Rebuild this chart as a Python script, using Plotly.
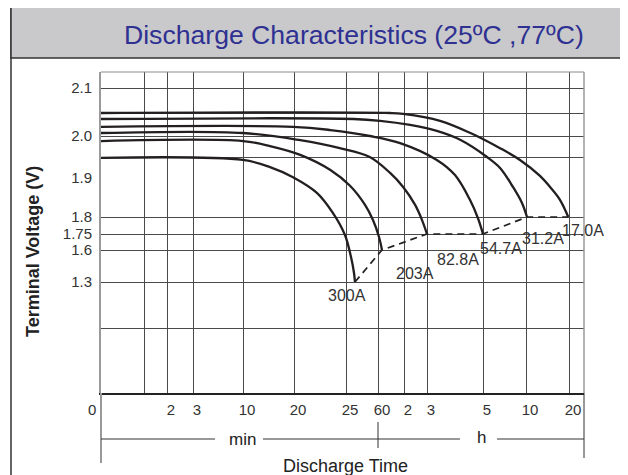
import numpy as np
import plotly.graph_objects as go

# ---------------- data ----------------
TIME_GRID_MIN = [1, 2, 3, 10, 20, 25, 60, 120, 180, 300, 600, 1200]
TIME_LABEL_MIN = [0, 2, 3, 10, 20, 25, 60, 120, 180, 300, 600, 1200]
TIME_LABEL_TEXT = ["0\u2003\u2002\u2009", "2", "3", "10", "20", "25", "60", "2", "3", "5", "10", "20"]

VOLT_GRID = [2.1, 2.05, 2.0, 1.95, 1.8, 1.75, 1.6, 1.3, 1.0]
VOLT_LABEL = [2.1, 2.0, 1.9, 1.8, 1.75, 1.6, 1.3]
VOLT_LABEL_TEXT = ["2.1", "2.0", "1.9", "1.8", "1.75", "1.6", "1.3"]

CURRENTS = ["300A", "203A", "82.8A", "54.7A", "31.2A", "17.0A"]

t_300A = [0, 10, 15.3, 19.8, 22.2, 23.75, 24.9, 30.5, 33.75, 34.8]
v_300A = [1.948, 1.943, 1.926, 1.902, 1.862, 1.810, 1.741, 1.534, 1.384, 1.30]

t_203A = [0, 10, 15.3, 20.6, 23.5, 29.4, 45.8, 54.5, 62.3, 69.2]
v_203A = [1.988, 1.988, 1.976, 1.955, 1.919, 1.880, 1.831, 1.791, 1.722, 1.60]

t_82A = [0, 10, 20.6, 24.4, 51, 88, 118, 149, 167, 180]
v_82A = [2.0065, 2.0065, 1.990, 1.971, 1.950, 1.912, 1.877, 1.831, 1.791, 1.75]

t_54A = [0, 19.8, 23.5, 51, 111, 201, 240, 272, 289, 300]
v_54A = [2.020, 2.020, 2.013, 2.000, 1.983, 1.943, 1.907, 1.844, 1.797, 1.75]

t_31A = [0, 33, 65, 136, 201, 251, 328, 419, 509, 572, 614]
v_31A = [2.037, 2.037, 2.033, 2.024, 2.011, 1.991, 1.950, 1.924, 1.877, 1.836, 1.80]

t_17A = [0, 88, 118, 208, 272, 419, 558, 795, 935, 1074, 1190]
v_17A = [2.050, 2.050, 2.048, 2.033, 2.007, 1.971, 1.943, 1.905, 1.877, 1.844, 1.80]

SERIES_T = [t_300A, t_203A, t_82A, t_54A, t_31A, t_17A]
SERIES_V = [v_300A, v_203A, v_82A, v_54A, v_31A, v_17A]

# ---------------- schematic (non-linear) axis scales ----------------
T_KNOT = [0, 1, 2, 3, 10, 20, 25, 60, 120, 180, 300, 600, 1200]
P_KNOT = [0, 43, 66, 92, 142, 193, 245, 277, 303, 326, 382, 425, 468]
X_RANGE = [0, 483]
V_KNOT = [1.0, 1.3, 1.6, 1.75, 1.8, 1.9, 1.95, 2.0, 2.05, 2.1]
U_KNOT = [65, 111, 143, 159, 176, 215, 236, 257, 280, 305]
Y_RANGE = [0, 321]


def sx(t):
    return list(np.interp(np.asarray(t, float), T_KNOT, P_KNOT))


def sy(v):
    return list(np.interp(np.asarray(v, float), V_KNOT, U_KNOT))


# label offsets (pixels) relative to each curve's end point
LABEL_SHIFT = {"300A": (-8, -13), "203A": (33, -23), "82.8A": (31, -25),
               "54.7A": (18, -14), "31.2A": (16, -21), "17.0A": (15, -13)}

FONT = "Liberation Sans, Arial, sans-serif"
INK = "#231f20"
TXT = "#333333"
GRID = "#4a4a4a"

fig = go.Figure()

for name, t, v in zip(CURRENTS, SERIES_T, SERIES_V):
    fig.add_trace(go.Scatter(
        x=sx(t), y=sy(v), mode="lines", name=name,
        line=dict(color=INK, width=2.3, shape="spline", smoothing=1.0),
        hoverinfo="skip", showlegend=False))

# dashed end-of-discharge line through the curve end points
end_t = [t[-1] for t in SERIES_T]
end_v = [v[-1] for v in SERIES_V]
fig.add_trace(go.Scatter(
    x=sx(end_t), y=sy(end_v), mode="lines", xaxis="x2", yaxis="y2",
    line=dict(color=INK, width=1.7, dash="7px,5px"),
    hoverinfo="skip", showlegend=False))

annotations = []
for name, t, v in zip(CURRENTS, SERIES_T, SERIES_V):
    dx, dy = LABEL_SHIFT[name]
    annotations.append(dict(
        x=sx([t[-1]])[0], y=sy([v[-1]])[0], xref="x", yref="y",
        text=name, showarrow=False, xshift=dx, yshift=dy,
        font=dict(family=FONT, size=16, color=TXT)))

# page body has an 8px margin: figure is laid out in screenshot coords minus 8
OFF = 8
W, H = 620, 467
L, R, T, B = 93, 44, 64, 82
PW, PH = W - L - R, H - T - B


def px2paper_x(px):
    return (px - OFF - L) / PW


def py2paper_y(py):
    return (H - B - (py - OFF)) / PH


annotations += [
    dict(x=px2paper_x(353.5), y=py2paper_y(35), xref="paper", yref="paper",
         text="Discharge Characteristics (25\u00baC ,77\u00baC)", showarrow=False,
         xanchor="center", yanchor="middle",
         font=dict(family=FONT, size=26.6, color="#2e3192")),
    dict(x=px2paper_x(33), y=py2paper_y(252), xref="paper", yref="paper",
         text="<b>Terminal Voltage (V)</b>", textangle=-90, showarrow=False,
         xanchor="center", yanchor="middle",
         font=dict(family=FONT, size=18, color="#222")),
    dict(x=px2paper_x(345), y=py2paper_y(466), xref="paper", yref="paper",
         text="Discharge Time", showarrow=False, xanchor="center", yanchor="middle",
         font=dict(family=FONT, size=18, color="#222")),
    dict(x=px2paper_x(242), y=py2paper_y(440), xref="paper", yref="paper",
         text="min", showarrow=False, xanchor="center", yanchor="middle",
         font=dict(family=FONT, size=17, color="#222")),
    dict(x=px2paper_x(481), y=py2paper_y(437), xref="paper", yref="paper",
         text="h", showarrow=False, xanchor="center", yanchor="middle",
         font=dict(family=FONT, size=17, color="#222")),
]

line_y = py2paper_y(439)
x60 = sx([60])[0]
shapes = [
    # outer frame and title band
    dict(type="rect", xref="paper", yref="paper",
         x0=px2paper_x(11), x1=px2paper_x(625), y0=py2paper_y(490), y1=py2paper_y(7),
         line=dict(color="#333", width=1.5), fillcolor="rgba(0,0,0,0)", layer="below"),
    dict(type="rect", xref="paper", yref="paper",
         x0=px2paper_x(11), x1=px2paper_x(625), y0=py2paper_y(58), y1=py2paper_y(7),
         line=dict(color="#333", width=1.5), fillcolor="#c9c9cb", layer="below"),
    # plot top & right borders
    dict(type="line", xref="paper", yref="paper", x0=0, x1=1, y0=1, y1=1,
         line=dict(color="#8a8a8a", width=1.2)),
    dict(type="line", xref="paper", yref="paper", x0=1, x1=1, y0=0, y1=1,
         line=dict(color="#9a9a9a", width=1.5)),
    # extensions of the left / right edges below the axis
    dict(type="line", xref="paper", yref="paper", x0=0, x1=0, y0=py2paper_y(463), y1=0,
         line=dict(color="#999", width=2)),
    dict(type="line", xref="paper", yref="paper", x0=1, x1=1, y0=py2paper_y(458), y1=0,
         line=dict(color="#333", width=1)),
    # min / h bracket line
    dict(type="line", xref="paper", yref="paper", x0=0, x1=px2paper_x(215), y0=line_y, y1=line_y,
         line=dict(color="#333", width=1)),
    dict(type="line", xref="paper", yref="paper", x0=px2paper_x(263), x1=px2paper_x(460),
         y0=line_y, y1=line_y, line=dict(color="#333", width=1)),
    dict(type="line", xref="paper", yref="paper", x0=px2paper_x(497), x1=1,
         y0=line_y, y1=line_y, line=dict(color="#333", width=1)),
    dict(type="line", xref="x", yref="paper", x0=x60, x1=x60,
         y0=py2paper_y(448), y1=py2paper_y(422), line=dict(color="#333", width=1)),
]

fig.update_layout(
    width=W, height=H,
    margin=dict(l=L, r=R, t=T, b=B, autoexpand=False),
    paper_bgcolor="white", plot_bgcolor="white",
    showlegend=False,
    font=dict(family=FONT, color=TXT),
    xaxis=dict(range=X_RANGE, tickmode="array", tickvals=sx(TIME_GRID_MIN),
               showticklabels=False, ticks="", showgrid=True, gridcolor=GRID, gridwidth=1,
               zeroline=False, showline=True, linecolor="#222", linewidth=1.5,
               fixedrange=True),
    yaxis=dict(range=Y_RANGE, tickmode="array", tickvals=sy(VOLT_GRID),
               showticklabels=False, ticks="", showgrid=True, gridcolor=GRID, gridwidth=1,
               zeroline=False, showline=True, linecolor="#9a9a9a", linewidth=2,
               fixedrange=True),
    xaxis2=dict(range=X_RANGE, overlaying="x", anchor="y", side="bottom",
                tickmode="array", tickvals=sx(TIME_LABEL_MIN), ticktext=TIME_LABEL_TEXT,
                ticks="", showgrid=False, zeroline=False, showline=False,
                ticklabelstandoff=6, ticklabelshift=4,
                tickfont=dict(family=FONT, size=15, color=TXT), fixedrange=True),
    yaxis2=dict(range=Y_RANGE, overlaying="y", anchor="x", side="left",
                tickmode="array", tickvals=sy(VOLT_LABEL), ticktext=VOLT_LABEL_TEXT,
                ticks="", showgrid=False, zeroline=False, showline=False,
                ticklabelstandoff=8,
                tickfont=dict(family=FONT, size=15, color=TXT), fixedrange=True),
    annotations=annotations,
    shapes=shapes,
)

fig.write_html("out.html")
